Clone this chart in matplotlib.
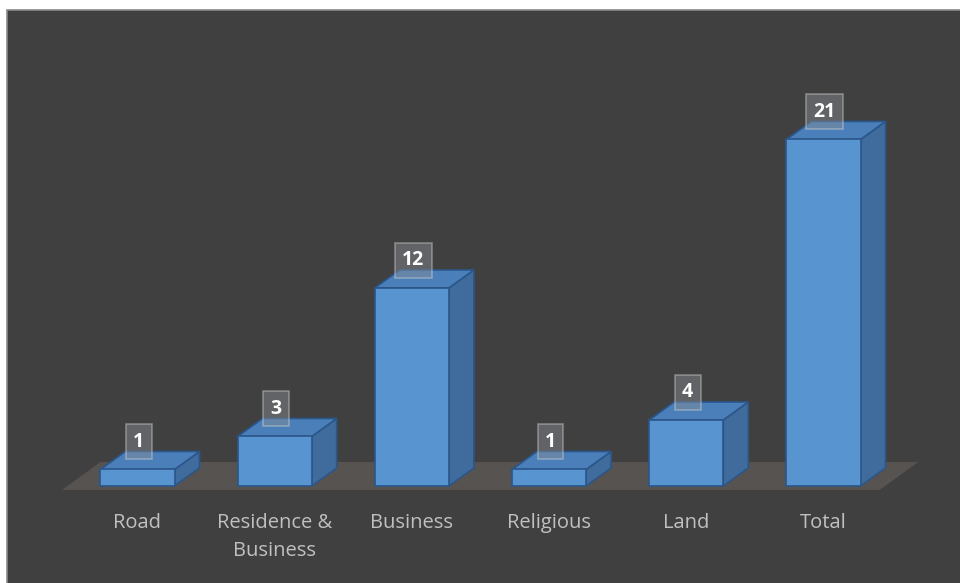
import matplotlib.pyplot as plt
from matplotlib.patches import Polygon, Rectangle

categories = ["Road", "Residence &\nBusiness", "Business", "Religious", "Land", "Total"]
values = [1, 3, 12, 1, 4, 21]

BG = "#404040"
FRONT = "#5895d0"
TOP = "#4a7fba"
SIDE = "#3f6c9c"
EDGE = "#2b568a"

half_w = 0.27    # half bar width (category units)
dx, dy = 0.182, 1.09   # 3d depth offset

fig = plt.figure(figsize=(9.6, 5.83), dpi=100)
fig.patch.set_facecolor("white")

ax = fig.add_axes([0, 0, 1, 1])
ax.set_facecolor("none")
ax.set_xlim(-1.002, 5.995)
ax.set_ylim(-5.88, 29.45)
ax.axis("off")

# chart area background with thin grey border (only top/left visible)
ax.add_patch(Rectangle((7 / 960, -0.1), 1.1, 1.1 - 10 / 583, transform=fig.transFigure,
                       facecolor=BG, edgecolor="#8a8a8a", lw=1.2, zorder=0))

# floor
n = len(categories)
floor = Polygon([(-0.55, -0.24), (n - 0.59, -0.24), (n - 0.31, 1.45), (-0.27, 1.45)],
                closed=True, facecolor="#575351", edgecolor="none", zorder=1)
ax.add_patch(floor)

for i, (cat, v) in enumerate(zip(categories, values)):
    x0, x1 = i - half_w, i + half_w
    front = Polygon([(x0, 0), (x1, 0), (x1, v), (x0, v)], closed=True,
                    facecolor=FRONT, edgecolor=EDGE, lw=1.2, zorder=3)
    top = Polygon([(x0, v), (x1, v), (x1 + dx, v + dy), (x0 + dx, v + dy)], closed=True,
                  facecolor=TOP, edgecolor=EDGE, lw=1.2, zorder=2)
    side = Polygon([(x1, 0), (x1 + dx, dy), (x1 + dx, v + dy), (x1, v)], closed=True,
                   facecolor=SIDE, edgecolor=EDGE, lw=1.2, zorder=2)
    for p in (side, top, front):
        ax.add_patch(p)

    ax.text(i + 0.01, v + 1.68, str(v), ha="center", va="center", color="white",
            fontsize=14, fontweight="bold", family="Open Sans", zorder=5,
            bbox=dict(boxstyle="square,pad=0.38", facecolor="#8a8f96", alpha=0.45,
                      edgecolor="#d0d0d0", lw=1.2))

    ax.text(i, -1.62, cat, ha="center", va="top", color="#c0c0c0",
            fontsize=14.5, family="Open Sans", linespacing=1.55, zorder=5)

fig.savefig("out.png", dpi=100, facecolor=fig.get_facecolor())
